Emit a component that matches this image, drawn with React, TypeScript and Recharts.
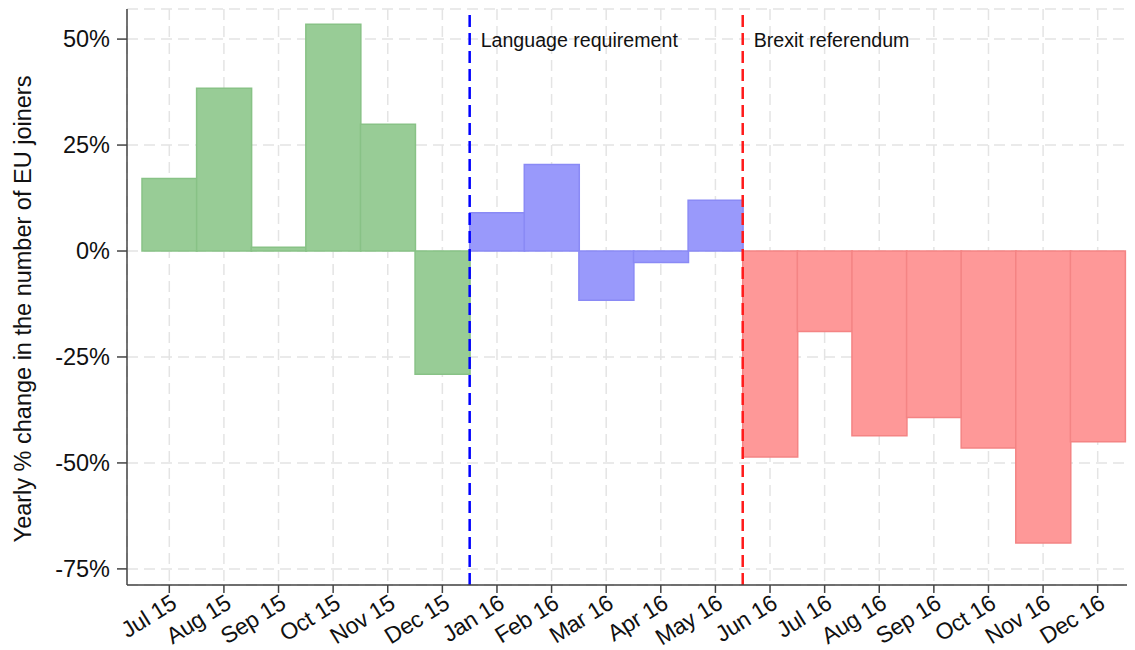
import React from "react";
import {
  BarChart,
  Bar,
  XAxis,
  YAxis,
  CartesianGrid,
  ReferenceLine,
} from "recharts";

const months = [
  "Jul 15", "Aug 15", "Sep 15", "Oct 15", "Nov 15", "Dec 15",
  "Jan 16", "Feb 16", "Mar 16", "Apr 16", "May 16",
  "Jun 16", "Jul 16", "Aug 16", "Sep 16", "Oct 16", "Nov 16", "Dec 16",
];

// yearly % change, by period
const beforeValues = [17.1, 38.4, 0.9, 53.5, 29.9, -29.1];
const languageValues = [9.0, 20.4, -11.6, -2.7, 12.0];
const brexitValues = [-48.6, -19.0, -43.6, -39.3, -46.5, -68.9, -45.0];

const yTicks = [-75, -50, -25, 0, 25, 50];
const events = [
  { at: 5.5, label: "Language requirement", color: "#0000ff" },
  { at: 10.5, label: "Brexit referendum", color: "#ff1a1a" },
];

const data = months.map((m, i) => {
  const row: any = { month: m, idx: i };
  if (i < beforeValues.length) row.before = beforeValues[i];
  else if (i < beforeValues.length + languageValues.length)
    row.language = languageValues[i - beforeValues.length];
  else row.brexit = brexitValues[i - beforeValues.length - languageValues.length];
  return row;
});

const FONT = "'Liberation Sans', Arial, Helvetica, sans-serif";

const XTick = (props: any) => {
  const { x, y, payload } = props;
  return (
    <g transform={`translate(${x},${y})`}>
      <text
        textAnchor="end"
        transform="rotate(-32)"
        dy="0.72em"
        fontSize={23}
        letterSpacing={-0.3}
        fontFamily={FONT}
        fill="#111"
      >
        {payload.value}
      </text>
    </g>
  );
};

const EventLabel = (props: any) => {
  const { viewBox, text } = props;
  if (!viewBox) return null;
  return (
    <text
      x={viewBox.x + 11}
      y={viewBox.y + 37.5}
      fontSize={19.6}
      fontFamily={FONT}
      fill="#111"
    >
      {text}
    </text>
  );
};

const YTitle = () => (
  <text
    x={15}
    y={301}
    transform="rotate(-90, 15, 301)"
    textAnchor="middle"
    dominantBaseline="central"
    fontSize={23.5}
    fontFamily={FONT}
    fill="#111"
  >
    Yearly % change in the number of EU joiners
  </text>
);

export default function App() {
  return (
    <BarChart
      width={1127}
      height={642}
      data={data}
      margin={{ top: 1, right: 0, bottom: 0, left: 0 }}
      barCategoryGap={0}
      barGap={0}
    >
      <CartesianGrid
        xAxisId="c"
        stroke="#e4e4e4"
        strokeWidth={1.5}
        strokeDasharray="11 6"
      />
      <XAxis
        xAxisId="c"
        dataKey="month"
        type="category"
        padding={{ left: 15, right: 10 }}
        height={65}
        tickSize={8}
        tickMargin={0}
        tick={<XTick />}
        interval={0}
        stroke="#444"
        strokeWidth={1.5}
        tickLine={{ stroke: "#444", strokeWidth: 1.5 }}
      />
      <XAxis
        xAxisId="n"
        dataKey="idx"
        type="number"
        domain={[-0.5, 17.5]}
        allowDataOverflow
        padding={{ left: 15, right: 10 }}
        hide
      />
      <YAxis
        domain={[-78.8, 57.1]}
        allowDataOverflow
        ticks={yTicks}
        width={119}
        tickSize={10}
        tickMargin={7}
        tickFormatter={(v: number) => `${v}%`}
        tick={{ fontSize: 23.5, fontFamily: FONT, fill: "#111" }}
        stroke="#444"
        strokeWidth={1.5}
        tickLine={{ stroke: "#444", strokeWidth: 1.5 }}
        label={<YTitle />}
      />
      <Bar
        xAxisId="c"
        dataKey="before"
        stackId="s"
        fill="#98cc96"
        stroke="#88c286"
        strokeWidth={1.5}
        isAnimationActive={false}
      />
      <Bar
        xAxisId="c"
        dataKey="language"
        stackId="s"
        fill="#9999fb"
        stroke="#8a8af5"
        strokeWidth={1.5}
        isAnimationActive={false}
      />
      <Bar
        xAxisId="c"
        dataKey="brexit"
        stackId="s"
        fill="#fe9898"
        stroke="#f48484"
        strokeWidth={1.5}
        isAnimationActive={false}
      />
      {events.map((e) => (
        <ReferenceLine
          key={e.label}
          xAxisId="n"
          x={e.at}
          stroke={e.color}
          strokeWidth={2.5}
          strokeDasharray="12 6"
          label={<EventLabel text={e.label} />}
        />
      ))}
    </BarChart>
  );
}
